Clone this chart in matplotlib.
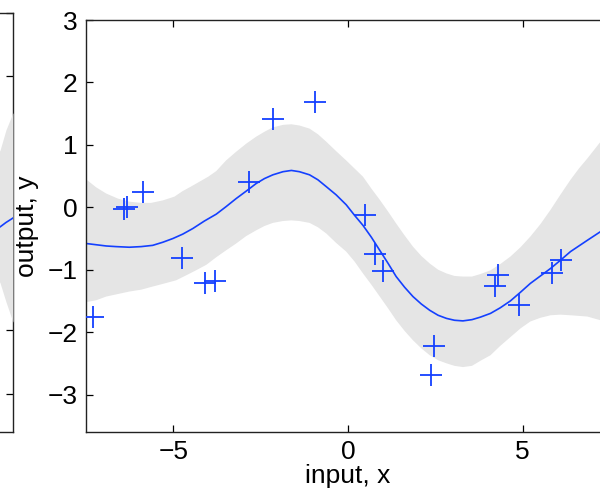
#!/usr/bin/env python3
"""GP posterior on 1-d data: mean, 2-sd band and the training points (right panel),
with the edge of the neighbouring panel visible on the left."""

import matplotlib
matplotlib.use("Agg")
import matplotlib.pyplot as plt

BLUE = "#1440ff"
BAND = "#e5e5e5"

# training points
x_obs = [-7.31, -6.42, -6.33, -5.87, -4.75, -4.08, -3.80, -2.82, -2.15, -0.93,
         0.48, 0.76, 1.00, 2.39, 2.45, 4.22, 4.29, 4.89, 5.83, 6.10]
y_obs = [-1.76, -0.03, 0.01, 0.25, -0.82, -1.22, -1.18, 0.41, 1.42, 1.69,
         -0.12, -0.75, -1.02, -2.69, -2.22, -1.26, -1.09, -1.57, -1.06, -0.85]

# posterior mean, right panel
x_mean = [-7.50, -7.21, -6.92, -6.64, -6.26, -5.92, -5.59, -5.30, -5.01, -4.73,
          -4.44, -4.11, -3.77, -3.49, -3.20, -2.91, -2.63, -2.39, -2.15, -1.86,
          -1.62, -1.39, -1.10, -0.86, -0.62, -0.34, -0.05, 0.19, 0.43, 0.67,
          0.91, 1.15, 1.38, 1.62, 1.86, 2.10, 2.34, 2.58, 2.82, 3.05,
          3.29, 3.55, 3.79, 4.08, 4.36, 4.65, 4.94, 5.22, 5.51, 5.80,
          6.08, 6.37, 6.61, 6.85, 7.23, 7.50]
mean = [-0.58, -0.60, -0.62, -0.63, -0.64, -0.63, -0.61, -0.56, -0.50, -0.43,
        -0.34, -0.22, -0.11, 0.01, 0.14, 0.26, 0.38, 0.46, 0.52, 0.57,
        0.59, 0.57, 0.52, 0.44, 0.33, 0.20, 0.04, -0.13, -0.29, -0.48,
        -0.69, -0.90, -1.11, -1.28, -1.43, -1.55, -1.65, -1.73, -1.78, -1.81,
        -1.82, -1.80, -1.76, -1.70, -1.61, -1.50, -1.36, -1.22, -1.10, -0.98,
        -0.85, -0.71, -0.62, -0.53, -0.39, -0.30]

# upper edge of the band
x_upper = [-7.50, -7.21, -6.92, -6.59, -6.26, -5.92, -5.64, -5.30, -4.97, -4.73,
           -4.50, -4.25, -4.00, -3.77, -3.49, -3.20, -2.91, -2.63, -2.39, -2.15,
           -1.86, -1.62, -1.39, -1.10, -0.86, -0.62, -0.34, -0.05, 0.19, 0.43,
           0.67, 0.91, 1.15, 1.38, 1.62, 1.86, 2.10, 2.34, 2.58, 2.82,
           3.05, 3.29, 3.55, 3.79, 4.08, 4.36, 4.65, 4.94, 5.22, 5.51,
           5.80, 6.08, 6.37, 6.61, 6.85, 7.23, 7.50]
upper = [0.45, 0.32, 0.22, 0.14, 0.09, 0.07, 0.07, 0.11, 0.17, 0.26,
         0.33, 0.41, 0.49, 0.58, 0.75, 0.89, 1.02, 1.13, 1.21, 1.28,
         1.32, 1.33, 1.31, 1.26, 1.17, 1.05, 0.90, 0.75, 0.62, 0.49,
         0.30, 0.12, -0.07, -0.26, -0.45, -0.63, -0.78, -0.90, -1.00, -1.06,
         -1.10, -1.11, -1.11, -1.07, -1.01, -0.91, -0.79, -0.64, -0.47, -0.27,
         -0.04, 0.20, 0.44, 0.62, 0.78, 1.05, 1.25]

# lower edge of the band
x_lower = [-7.50, -7.21, -6.92, -6.59, -6.26, -5.92, -5.59, -5.25, -4.92, -4.63,
           -4.35, -4.05, -3.77, -3.49, -3.20, -2.91, -2.63, -2.39, -2.15, -1.86,
           -1.62, -1.39, -1.10, -0.86, -0.62, -0.34, -0.05, 0.19, 0.43, 0.67,
           0.91, 1.15, 1.38, 1.62, 1.86, 2.10, 2.34, 2.58, 2.82, 3.05,
           3.29, 3.55, 3.79, 4.08, 4.36, 4.65, 4.94, 5.22, 5.51, 5.80,
           6.08, 6.37, 6.85, 7.23, 7.50]
lower = [-1.52, -1.49, -1.43, -1.39, -1.35, -1.32, -1.27, -1.22, -1.17, -1.09,
         -1.01, -0.92, -0.80, -0.69, -0.58, -0.46, -0.37, -0.30, -0.25, -0.22,
         -0.21, -0.22, -0.25, -0.32, -0.42, -0.57, -0.71, -0.87, -1.06, -1.24,
         -1.43, -1.62, -1.81, -1.98, -2.13, -2.26, -2.37, -2.45, -2.50, -2.54,
         -2.56, -2.54, -2.46, -2.37, -2.22, -2.08, -1.94, -1.83, -1.77, -1.73,
         -1.72, -1.73, -1.75, -1.81, -1.85]

# only the right end of the neighbouring panel is in view
x_edge = [6.90, 7.13, 7.30, 7.50]
mean_edge = [-0.42, -0.37, -0.30, -0.23]
upper_edge = [0.62, 0.84, 1.16, 1.43]
lower_edge = [-1.02, -1.25, -1.55, -1.87]

XLIM = (-7.5, 7.5)
YLIM = (-3.6, 3)
YTICKS = [-3, -2, -1, 0, 1, 2, 3]
XTICKS = [-5, 0, 5]


def style(ax, labels=True):
    ax.set_xlim(*XLIM)
    ax.set_ylim(*YLIM)
    ax.set_xticks(XTICKS)
    ax.set_yticks(YTICKS)
    if labels:
        ax.set_xticklabels(["\u22125", "0", "5"])
        ax.set_yticklabels(["\u22123", "\u22122", "\u22121", "0", "1", "2", "3"])
    ax.tick_params(direction="in", top=True, right=True, length=5, width=0.9,
                   labelsize=19, pad=6, labelleft=labels, labelbottom=labels)
    for s in ax.spines.values():
        s.set_linewidth(1.0)
        s.set_color("#222222")


def main():
    plt.rcParams["font.family"] = ["Liberation Sans", "DejaVu Sans"]
    fig = plt.figure(figsize=(6.0, 4.94), dpi=100)

    left = fig.add_axes([-0.8517, 0.1255, 0.8733, 0.8482])
    left.fill_between(x_edge, lower_edge, upper_edge, color=BAND, lw=0, zorder=3)
    left.plot(x_edge, mean_edge, color=BLUE, lw=1.2, zorder=4)
    style(left, labels=False)

    ax = fig.add_axes([0.1433, 0.1255, 0.8733, 0.834])
    ax.fill(x_upper + x_lower[::-1], upper + lower[::-1], color=BAND, lw=0, zorder=1)
    ax.plot(x_mean, mean, color=BLUE, lw=1.2, zorder=2)
    ax.plot(x_obs, y_obs, "+", color=BLUE, ms=16, mew=1.3, zorder=3)
    style(ax)
    ax.set_xlabel("input, x", fontsize=19, labelpad=0)
    ax.set_ylabel("output, y", fontsize=19, labelpad=6)

    fig.savefig("out.png", dpi=100)


if __name__ == "__main__":
    main()
